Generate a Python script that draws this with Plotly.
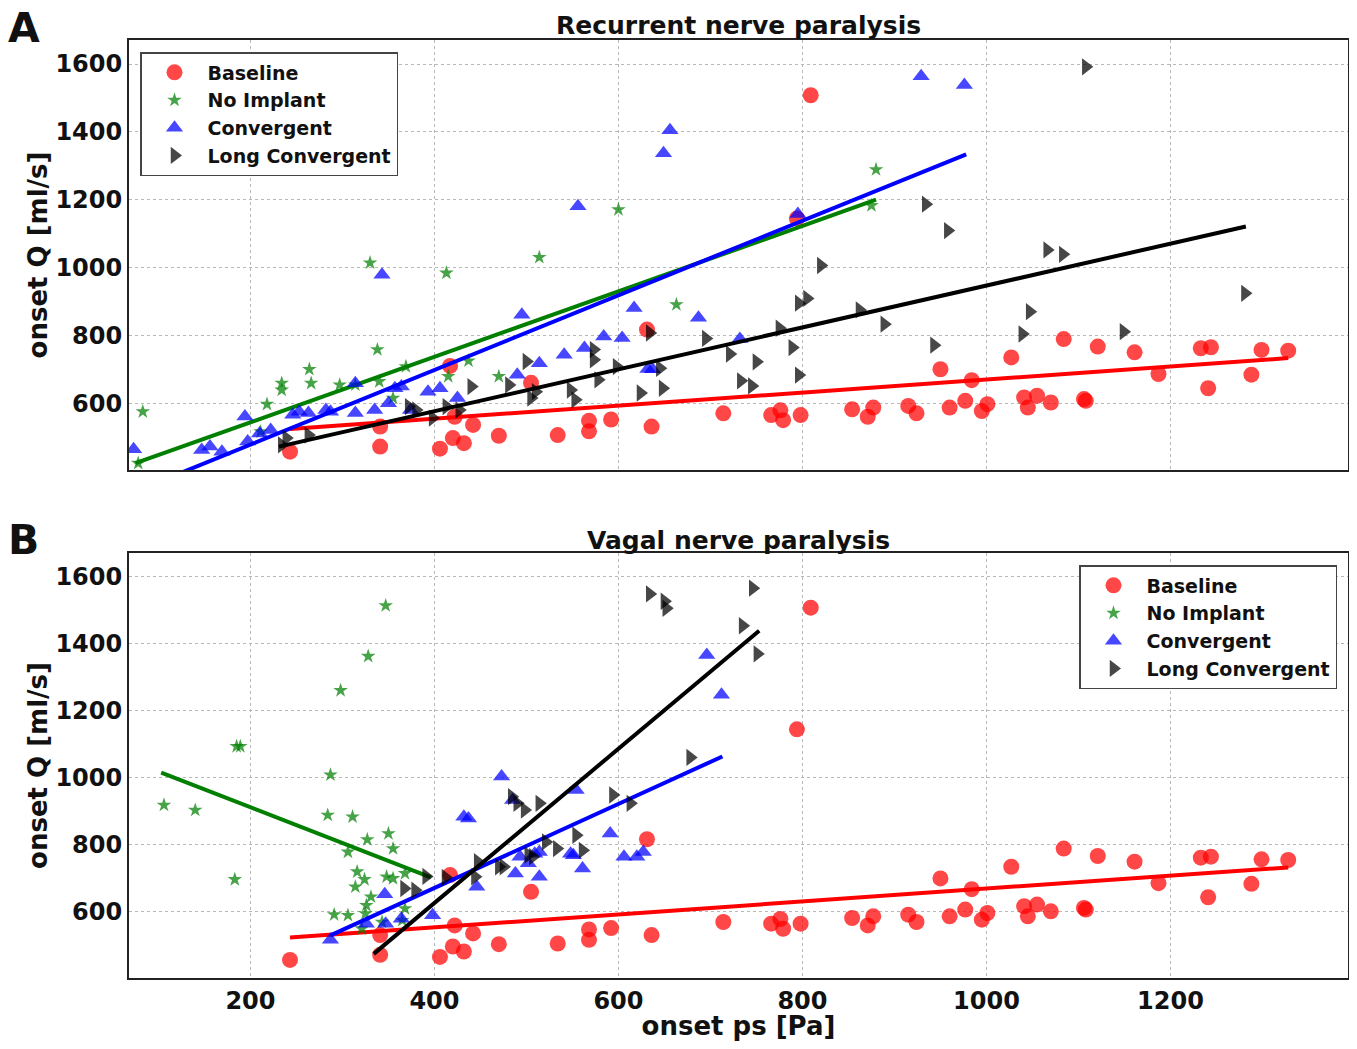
import plotly.graph_objects as go

# ---------------- data ----------------
# Baseline (same in both panels)
base_x = [243, 341, 341, 406, 417, 420, 422, 432, 442, 470, 505, 534, 568, 568, 592, 631, 636, 714, 766, 776,
          779, 794, 798, 809, 854, 871, 877, 915, 924, 950, 960, 977, 984, 995, 1001, 1027, 1041, 1045, 1055, 1070,
          1084, 1106, 1108, 1121, 1161, 1187, 1233, 1244, 1241, 1288, 1299, 1328]
base_y = [457, 472, 531, 466, 710, 497, 560, 482, 536, 504, 660, 506, 548, 517, 552, 817, 531, 570, 565, 579,
          550, 1145, 565, 1508, 582, 560, 587, 592, 570, 700, 587, 607, 668, 577, 597, 735, 617, 587, 622, 602,
          789, 612, 607, 767, 750, 686, 762, 765, 644, 684, 757, 755]

# Panel A: recurrent nerve paralysis
noimp_a_x = [78, 83, 211, 218, 234, 234, 264, 266, 297, 314, 330, 338, 340, 355, 369, 413, 415, 437, 470, 514,
             600, 663, 875, 880]
noimp_a_y = [423, 575, 516, 597, 659, 639, 700, 659, 654, 654, 1014, 758, 664, 615, 708, 984, 679, 725, 679, 1030,
             1171, 891, 1183, 1289]

conv_a_x = [73, 147, 156, 169, 194, 197, 210, 222, 246, 253, 263, 282, 287, 314, 314, 335, 343, 350, 357, 364,
            374, 393, 406, 425, 490, 495, 514, 541, 556, 563, 584, 604, 617, 632, 637, 649, 656, 687, 732, 795,
            929, 976]
conv_a_y = [464, 462, 472, 457, 561, 487, 511, 521, 566, 575, 571, 580, 575, 659, 571, 580, 979, 600, 644, 649,
            580, 634, 644, 615, 684, 861, 718, 743, 1181, 763, 797, 792, 881, 701, 700, 1337, 1405, 852, 789, 1158,
            1564, 1538]

long_a_x = [234, 239, 263, 372, 380, 398, 413, 427, 440, 481, 500, 505, 510, 548, 553, 573, 573, 578, 598, 624,
            634, 645, 648, 695, 721, 733, 745, 750, 775, 789, 796, 796, 805, 820, 862, 889, 934, 958, 943, 1039,
            1047, 1066, 1083, 1108, 1149, 1281]
long_a_y = [477, 497, 506, 590, 580, 556, 590, 580, 649, 654, 723, 615, 634, 639, 610, 758, 728, 669, 708, 630,
            807, 703, 644, 791, 745, 666, 651, 722, 821, 764, 683, 895, 909, 1006, 875, 833, 1187, 1109, 771, 804,
            870, 1052, 1039, 1592, 811, 924]

# Panel B: vagal nerve paralysis
noimp_b_x = [106, 140, 183, 185, 189, 287, 298, 328, 347, 284, 311, 327, 350, 355, 306, 316, 324, 314, 331, 326,
             348, 355, 368, 291, 306, 325, 368, 343, 365, 321]
noimp_b_y = [919, 904, 697, 1094, 1094, 1009, 1261, 1363, 1514, 889, 884, 816, 834, 789, 779, 720, 697, 675, 645,
             620, 705, 700, 715, 592, 590, 595, 610, 570, 575, 550]

conv_b_x = [287, 326, 346, 347, 364, 398, 432, 437, 446, 473, 485, 488, 493, 502, 509, 514, 514, 548, 554, 551,
            561, 591, 606, 620, 627, 696, 712]
conv_b_y = [517, 565, 653, 565, 580, 590, 884, 879, 675, 1004, 934, 715, 765, 745, 774, 705, 779, 774, 964, 769,
            730, 834, 765, 765, 779, 1367, 1248]

long_b_x = [367, 379, 391, 412, 447, 444, 470, 475, 484, 490, 498, 514, 502, 507, 521, 533, 554, 561, 594, 613,
            634, 650, 652, 678, 746, 735, 751]
long_b_y = [670, 665, 706, 703, 750, 705, 735, 735, 944, 924, 904, 924, 770, 765, 809, 789, 829, 784, 949, 924,
            1549, 1527, 1506, 1061, 1566, 1454, 1370]

# Fit lines (end points)
fit_base_x = [243, 1328]
fit_base_y = [524, 733]
fit_noimp_a_x = [75, 880]
fit_noimp_a_y = [423, 1200]
fit_conv_a_x = [73, 978]
fit_conv_a_y = [338, 1334]
fit_long_a_x = [231, 1282]
fit_long_a_y = [472, 1121]
fit_noimp_b_x = [103, 396]
fit_noimp_b_y = [1016, 703]
fit_conv_b_x = [287, 713]
fit_conv_b_y = [530, 1064]
fit_long_b_x = [334, 753]
fit_long_b_y = [475, 1439]

series_names = ["Baseline", "No Implant", "Convergent", "Long Convergent"]
x_ticks = [200, 400, 600, 800, 1000, 1200]
y_ticks = [600, 800, 1000, 1200, 1400, 1600]

# ---------------- styles ----------------
mk_colors = ["rgba(255,0,0,0.72)", "rgba(0,128,0,0.72)", "rgba(0,0,255,0.72)", "rgba(0,0,0,0.72)"]
ln_colors = ["#ff0000", "#007f00", "#0000ff", "#000000"]
symbols = ["circle", "star", "triangle-up", "triangle-right"]
sizes = [16, 11, 15, 15]

FONT = "DejaVu Sans"
OFF = 8  # default page body margin
W, H = 1357 - 2 * OFF, 1049 - 2 * OFF
# page-pixel positions of the plot frames
FL, FR, FT, FB = 129, 1348, 40, 978
ML, MT = FL - OFF, FT - OFF
MR = W - (FR - OFF)
MB = H - (FB - OFF)
PH = H - MT - MB
PW = W - ML - MR


def py(pix):
    """paper y for a page pixel row"""
    return 1 - (pix - FT) / PH


def px(pix):
    return (pix - FL) / PW


fig = go.Figure()

panels = [
    dict(xa="x", ya="y", legend="legend",
         data=[(base_x, base_y, fit_base_x, fit_base_y),
               (noimp_a_x, noimp_a_y, fit_noimp_a_x, fit_noimp_a_y),
               (conv_a_x, conv_a_y, fit_conv_a_x, fit_conv_a_y),
               (long_a_x, long_a_y, fit_long_a_x, fit_long_a_y)]),
    dict(xa="x2", ya="y2", legend="legend2",
         data=[(base_x, base_y, fit_base_x, fit_base_y),
               (noimp_b_x, noimp_b_y, fit_noimp_b_x, fit_noimp_b_y),
               (conv_b_x, conv_b_y, fit_conv_b_x, fit_conv_b_y),
               (long_b_x, long_b_y, fit_long_b_x, fit_long_b_y)]),
]

for p in panels:
    for i, (sx, sy, lx, ly) in enumerate(p["data"]):
        fig.add_trace(go.Scatter(
            x=sx, y=sy, mode="markers", name=series_names[i],
            marker=dict(symbol=symbols[i], size=sizes[i], color=mk_colors[i], line=dict(width=0)),
            xaxis=p["xa"], yaxis=p["ya"], legend=p["legend"], showlegend=True, cliponaxis=True))
        fig.add_trace(go.Scatter(
            x=lx, y=ly, mode="lines", line=dict(color=ln_colors[i], width=4),
            xaxis=p["xa"], yaxis=p["ya"], showlegend=False, hoverinfo="skip"))

axis_common = dict(
    showgrid=True, gridcolor="#b8b8b8", griddash="dot", gridwidth=1.2,
    showline=True, linecolor="#222222", linewidth=2, mirror=True, automargin=False,
    zeroline=False, ticks="", tickfont=dict(family=FONT, size=24, color="#111111", weight="bold"),
)
title_font = dict(family=FONT, size=26, color="#111111", weight="bold")

fig.update_layout(
    template="none",
    width=W, height=H,
    margin=dict(l=ML, r=MR, t=MT, b=MB, autoexpand=False),
    paper_bgcolor="white", plot_bgcolor="white",
    font=dict(family=FONT, color="#111111", weight="bold"),
    xaxis=dict(domain=[0, 1], anchor="y", range=[68, 1393], tickvals=x_ticks, showticklabels=False,
               **axis_common),
    yaxis=dict(domain=[py(470), 1], anchor="x", range=[403, 1671], tickvals=y_ticks,
               title=dict(text="onset Q [ml/s]", font=title_font, standoff=0),
               **axis_common),
    xaxis2=dict(domain=[0, 1], anchor="y2", range=[68, 1393], tickvals=x_ticks,
                title=dict(text="onset ps [Pa]", font=title_font, standoff=6),
                **axis_common),
    yaxis2=dict(domain=[0, py(553)], anchor="x2", range=[403, 1671], tickvals=y_ticks,
                title=dict(text="onset Q [ml/s]", font=title_font, standoff=0),
                **axis_common),
    legend=dict(x=px(140), y=py(52), xanchor="left", yanchor="top", bgcolor="white",
                bordercolor="#444444", borderwidth=1.5, itemwidth=56,
                font=dict(family=FONT, size=19, weight="bold"), itemsizing="trace", tracegroupgap=0),
    legend2=dict(x=px(1337), y=py(565), xanchor="right", yanchor="top", bgcolor="white",
                 bordercolor="#444444", borderwidth=1.5, itemwidth=56,
                 font=dict(family=FONT, size=19, weight="bold"), itemsizing="trace", tracegroupgap=0),
    showlegend=True,
)

annos = [
    dict(text="Recurrent nerve paralysis", x=0.5, y=py(25), xref="paper", yref="paper",
         xanchor="center", yanchor="middle", showarrow=False,
         font=dict(family=FONT, size=25, weight="bold")),
    dict(text="Vagal nerve paralysis", x=0.5, y=py(540), xref="paper", yref="paper",
         xanchor="center", yanchor="middle", showarrow=False,
         font=dict(family=FONT, size=25, weight="bold")),
    dict(text="A", x=px(6), y=py(28), xref="paper", yref="paper", xanchor="left", yanchor="middle",
         showarrow=False, font=dict(family=FONT, size=41, weight="bold")),
    dict(text="B", x=px(6), y=py(540), xref="paper", yref="paper", xanchor="left", yanchor="middle",
         showarrow=False, font=dict(family=FONT, size=41, weight="bold")),
]
fig.update_layout(annotations=annos)

fig.write_html("out.html")
